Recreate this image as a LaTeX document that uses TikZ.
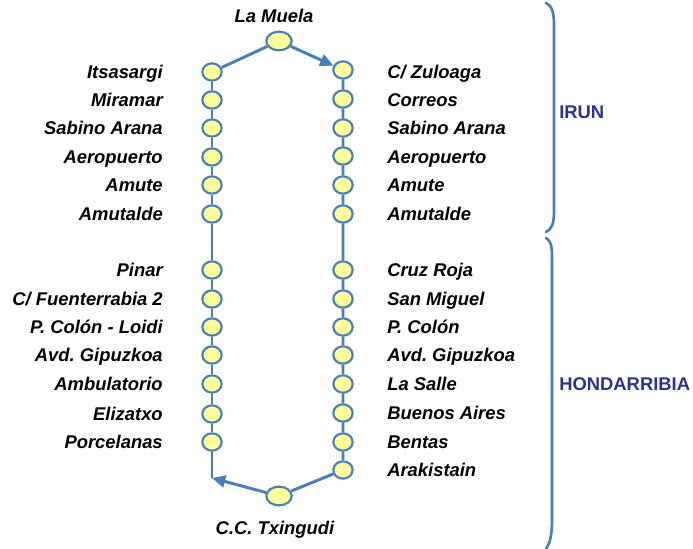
\documentclass[tikz,border=0pt]{standalone}
\usepackage{fontspec}
\setmainfont{Liberation Sans}
\usetikzlibrary{shapes.geometric,arrows.meta}
\frenchspacing

\definecolor{linea}{RGB}{74,126,187}
\definecolor{amarillo}{RGB}{255,255,153}
\definecolor{zona}{RGB}{46,49,146}

\tikzset{
	parada/.style={ellipse,draw=linea,fill=amarillo,line width=1.6pt,minimum width=14.5pt,minimum height=13pt,inner sep=0pt},
	terminal/.style={parada,minimum width=19pt,minimum height=14pt},
	nombre/.style={font=\fontsize{13.8}{16}\selectfont\bfseries\itshape,text height=9.9pt,text depth=0pt,inner sep=0pt},
	izq/.style={nombre,anchor=east},
	der/.style={nombre,anchor=west},
	ciudad/.style={anchor=west,font=\fontsize{13.8}{16}\selectfont\bfseries,text=zona,text height=9.9pt,text depth=0pt,inner sep=0pt},
	via/.style={draw=linea,line width=2.2pt},
	flecha/.style={-{Triangle[length=10pt,width=9pt]}},
	llave/.style={draw=linea,line width=2pt,line cap=round}
}

\begin{document}
\begin{tikzpicture}[x=0.75pt,y=-0.75pt]
				\useasboundingbox (0,0) rectangle (693,549);
				% cabeceras
				\node[terminal] (muela) at (279,41) {}; \node[nombre] (tmuela) at (274,16) {La Muela};
				\node[terminal] (txingudi) at (279,496) {}; \node[nombre] (ttxingudi) at (275,528) {C.C. Txingudi};
				% ida (izquierda)
				\node[parada] (i1) at (212,72) {}; \node[izq] (ti1) at (163,72) {Itsasargi};
				\node[parada] (i2) at (212,100) {}; \node[izq] (ti2) at (163,100) {Miramar};
				\node[parada] (i3) at (212,128) {}; \node[izq] (ti3) at (163,128) {Sabino Arana};
				\node[parada] (i4) at (212,157) {}; \node[izq] (ti4) at (163,157) {Aeropuerto};
				\node[parada] (i5) at (212,185) {}; \node[izq] (ti5) at (163,185) {Amute};
				\node[parada] (i6) at (212,214) {}; \node[izq] (ti6) at (163,214) {Amutalde};
				\node[parada] (i7) at (212,270) {}; \node[izq] (ti7) at (163,270) {Pinar};
				\node[parada] (i8) at (212,299) {}; \node[izq] (ti8) at (163,299) {C/ Fuenterrabia 2};
				\node[parada] (i9) at (212,327) {}; \node[izq] (ti9) at (163,327) {P. Colón - Loidi};
				\node[parada] (i10) at (212,355) {}; \node[izq] (ti10) at (163,355) {Avd. Gipuzkoa};
				\node[parada] (i11) at (212,384) {}; \node[izq] (ti11) at (163,384) {Ambulatorio};
				\node[parada] (i12) at (212,414) {}; \node[izq] (ti12) at (163,414) {Elizatxo};
				\node[parada] (i13) at (212,442) {}; \node[izq] (ti13) at (163,442) {Porcelanas};
				\coordinate (esq) at (212,478);
				% vuelta (derecha)
				\node[parada] (d1) at (343,70) {}; \node[der] (td1) at (387,72) {C/ Zuloaga};
				\node[parada] (d2) at (343,99) {}; \node[der] (td2) at (387,100) {Correos};
				\node[parada] (d3) at (343,128) {}; \node[der] (td3) at (387,128) {Sabino Arana};
				\node[parada] (d4) at (343,156) {}; \node[der] (td4) at (387,157) {Aeropuerto};
				\node[parada] (d5) at (343,185) {}; \node[der] (td5) at (387,185) {Amute};
				\node[parada] (d6) at (343,214) {}; \node[der] (td6) at (387,214) {Amutalde};
				\node[parada] (d7) at (343,270) {}; \node[der] (td7) at (387,270) {Cruz Roja};
				\node[parada] (d8) at (343,299) {}; \node[der] (td8) at (387,299) {San Miguel};
				\node[parada] (d9) at (343,327) {}; \node[der] (td9) at (387,327) {P. Colón};
				\node[parada] (d10) at (343,355) {}; \node[der] (td10) at (387,355) {Avd. Gipuzkoa};
				\node[parada] (d11) at (343,384) {}; \node[der] (td11) at (387,384) {La Salle};
				\node[parada] (d12) at (343,413) {}; \node[der] (td12) at (387,413) {Buenos Aires};
				\node[parada] (d13) at (343,442) {}; \node[der] (td13) at (387,442) {Bentas};
				\node[parada] (d14) at (343,470) {}; \node[der] (td14) at (387,470) {Arakistain};
				% recorrido
				\draw[via] (i1) -- (i2) -- (i3) -- (i4) -- (i5) -- (i6) -- (i7) -- (i8) -- (i9) -- (i10) -- (i11) -- (i12) -- (i13) -- (esq);
				\draw[via] (d1) -- (d2) -- (d3) -- (d4) -- (d5) -- (d6) -- (d7) -- (d8) -- (d9) -- (d10) -- (d11) -- (d12) -- (d13) -- (d14) -- (txingudi);
				\draw[via] (i1) -- (muela);
				\draw[via,flecha] (muela) -- (d1);
				\draw[via,flecha] (txingudi) -- (esq);
				% municipios
				\draw[llave] (546,3) .. controls (552,6) and (554,12) .. (554,25) -- (554,210) .. controls (554,224) and (552,229) .. (546,232);
				\node[ciudad] (irun) at (559,112) {IRUN};
				\draw[llave] (546,238) .. controls (550,240) and (552,245) .. (552,255) -- (552,520) .. controls (552,535) and (550,543) .. (546,549);
				\node[ciudad] (hondarribia) at (559,384) {HONDARRIBIA};
				\end{tikzpicture}
\end{document}
